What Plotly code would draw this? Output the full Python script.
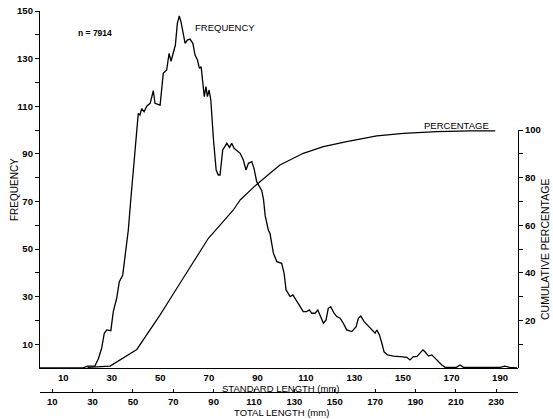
import plotly.graph_objects as go

# Frequency curve (standard length mm -> frequency)
sl_freq = [0, 18, 20, 23, 24.5, 25.8, 26.9, 27.9, 29.6, 30.6, 32.0, 33.1, 34.5, 35.9, 36.8, 37.8,
           38.6, 39.6, 40.9, 41.6, 42.3, 43.3, 44.4, 45.8, 47.1, 47.8, 49.9, 51.2, 52.6, 53.6, 54.4,
           55.4, 56.2, 57.0, 57.8, 58.5, 59.5, 60.2, 61.1, 62.2, 63.4, 64.3, 65.3, 66.1, 66.8, 67.5,
           68.1, 68.8, 69.4, 70.1, 70.8, 71.9, 73.0, 73.9, 74.6, 75.7, 76.7, 77.4, 78.5, 79.4, 80.4,
           81.5, 82.9, 84.2, 85.3, 86.3, 87.7, 88.6, 89.7, 91.8, 92.5, 93.2, 94.5, 95.2, 96.6, 98.0,
           100.0, 101.0, 101.8, 103.5, 104.6, 105.9, 107.3, 108.9, 110.3, 111.4, 112.4, 113.8, 114.9,
           115.8, 117.2, 118.3, 119.2, 120.2, 121.6, 122.7, 124.1, 125.4, 126.8, 128.9, 130.7, 131.6,
           132.6, 134.0, 135.7, 137.1, 138.5, 139.2, 140.3, 141.3, 142.2, 143.6, 146.1, 148.8, 151.6,
           152.9, 154.3, 155.7, 156.8, 158.2, 159.1, 160.5, 161.9, 163.2, 164.6, 166.0, 167.4, 172.0,
           173.5, 174.9, 190.0, 192.0, 194.0, 197.0]
freq = [0, 0, 0.8, 0.8, 4, 8.3, 14.6, 16, 15.7, 23.7, 29.3, 36.3, 39.1, 51, 58, 70.6,
        79, 91.6, 107, 106.3, 109, 107.7, 110, 111.2, 116.5, 111.2, 110.5, 123.8, 125.2, 132.2, 128.9,
        132.9, 135.7, 144.8, 147.9, 145.5, 139.2, 136.4, 137.8, 138.2, 136.4, 131.5, 129.4, 125.9, 126.6, 119.6,
        114, 118.2, 114, 116.8, 112.6, 95.8, 83.2, 81.1, 81.1, 91.6, 93, 94.4, 92.7, 94.4, 92.3,
        91.3, 90.2, 87.4, 83.2, 86, 86.7, 83.9, 78.3, 74.5, 71, 64, 58, 56.5, 48.2, 44.7,
        44.0, 39.8, 32.8, 30, 30.7, 28.6, 26.5, 23.7, 23.7, 24.4, 23, 23, 24.4,
        22.3, 18.8, 20.2, 25.1, 25.8, 23, 21.6, 20.9, 18.8, 16, 15.3, 17.4, 20.9,
        21.8, 19.5, 17.6, 16, 14.6, 16, 13.9, 10.4, 6.8, 5.5, 5, 4.8, 4.5,
        3.4, 4.8, 4.8, 6.2, 7.6, 6.8, 5, 5.5, 4.1, 2.6, 1.3, 0.3, 0.3,
        1.3, 0.3, 0.3, 0.8, 0.3, 0]

# Cumulative percentage curve
sl_pct = [20, 29.3, 40.3, 49.9, 58.1, 69.8, 74.6, 80.1, 82.9, 89.0, 95.2, 99.3, 108.9, 117.2,
          126.8, 139.2, 150.2, 163.9, 177.7, 188.0]
pct = [0.3, 0.8, 7.8, 22.3, 35.6, 54.5, 60, 66.4, 70.6, 76.5, 81.8, 85.3, 90.2, 93,
       95.1, 97.5, 98.6, 99.3, 99.6, 99.6]

freq_ticks = list(range(10, 160, 10))
freq_labels = [str(v) if (v // 10) % 2 == 1 else "" for v in freq_ticks]
pct_ticks = list(range(10, 110, 10))
pct_labels = [str(v) if (v // 10) % 2 == 0 else "" for v in pct_ticks]
sl_ticks = list(range(10, 200, 20))
tl_ticks = list(range(10, 240, 20))

FONT = "Liberation Sans, Arial, sans-serif"
W, H = 553, 419
ml, mr, mt, mb = 40, 35, 11, 27
pw, ph = W - ml - mr, H - mt - mb
base_px = 392 - 368  # offset of main baseline above total-length axis

def px_x(p):
    return (p - ml) / pw

def px_y(p):
    return (H - mb - p) / ph

fig = go.Figure()
fig.add_trace(go.Scatter(x=sl_freq, y=freq, mode="lines", line=dict(color="black", width=1.3),
                         xaxis="x", yaxis="y", showlegend=False))
fig.add_trace(go.Scatter(x=sl_pct, y=pct, mode="lines", line=dict(color="black", width=1.2),
                         xaxis="x", yaxis="y2", showlegend=False))
# invisible trace to activate the total length axis
fig.add_trace(go.Scatter(x=[tl_ticks[0]], y=[0], mode="markers", marker=dict(opacity=0),
                         xaxis="x2", yaxis="y", showlegend=False, hoverinfo="skip"))

tickfont = dict(family=FONT, size=9.5, color="black", weight="bold")

fig.update_layout(
    width=W, height=H,
    margin=dict(l=ml, r=mr, t=mt, b=mb, autoexpand=False),
    plot_bgcolor="rgba(0,0,0,0)", paper_bgcolor="white",
    xaxis=dict(range=[0.4, 197.4], domain=[0, 1], anchor="y", showgrid=False, zeroline=False,
               automargin=False, showline=True, linecolor="black", linewidth=1.3, ticks="",
               tickvals=sl_ticks, ticktext=[str(v) for v in sl_ticks], tickfont=tickfont),
    xaxis2=dict(range=[3.96, 240.8], overlaying="x", anchor="free", position=0, side="bottom",
                automargin=False, showgrid=False, zeroline=False, showline=True, linecolor="black",
                linewidth=1.3, ticks="inside", ticklen=3, tickcolor="black",
                tickvals=tl_ticks, ticktext=[str(v) for v in tl_ticks], tickfont=tickfont),
    yaxis=dict(range=[0, 150], domain=[base_px / ph, 1], anchor="x", showgrid=False, zeroline=False,
               automargin=False, showline=True, linecolor="black", linewidth=1.3, ticks="outside",
               ticklen=4, tickcolor="black", tickvals=freq_ticks, ticktext=freq_labels,
               tickfont=tickfont),
    yaxis2=dict(range=[0, 100], domain=[base_px / ph, px_y(130)], anchor="x", side="right",
                automargin=False, showgrid=False, zeroline=False, showline=True, linecolor="black",
                linewidth=1.3, ticks="outside", ticklen=4, tickcolor="black",
                tickvals=pct_ticks, ticktext=pct_labels, tickfont=tickfont),
)

def ann(text, xp, yp, size, angle=0, bold=False):
    fig.add_annotation(text=text, xref="paper", yref="paper", x=px_x(xp), y=px_y(yp),
                       xanchor="center", yanchor="middle", showarrow=False, textangle=angle,
                       font=dict(family=FONT, size=size, color="black",
                                 weight="bold" if bold else "normal"))

ann("STANDARD LENGTH (mm)", 281, 388, 9.5)
ann("TOTAL LENGTH (mm)", 281, 412, 9.5)
ann("FREQUENCY", 14, 190, 10, angle=-90)
ann("CUMULATIVE PERCENTAGE", 545, 250, 10.5, angle=-90)
ann("n = 7914", 94.5, 33, 8.5, bold=True)
ann("FREQUENCY", 225, 27, 9.5)
ann("PERCENTAGE", 456.5, 125, 9.5)

fig.write_html("out.html")
